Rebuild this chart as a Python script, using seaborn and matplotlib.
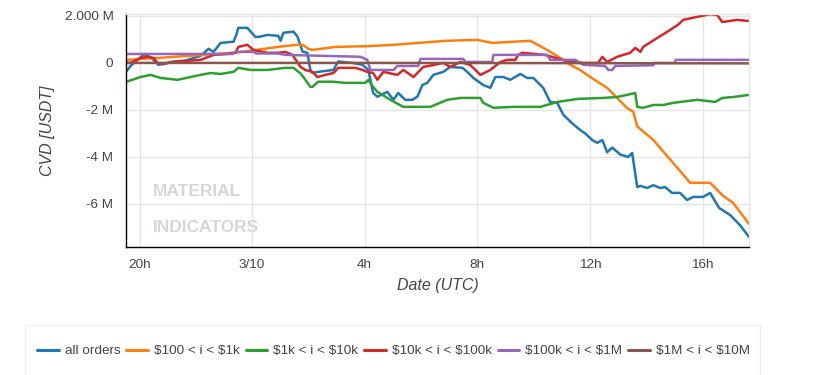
import pandas as pd
import numpy as np
import matplotlib
matplotlib.use("Agg")
import matplotlib.pyplot as plt
import matplotlib.dates as mdates
from matplotlib.ticker import MultipleLocator, FuncFormatter
from matplotlib.lines import Line2D
from matplotlib.patches import Rectangle
import seaborn as sns

# 时间起点：3/9 20h (UTC)，各序列的时间以小时偏移表示
START = pd.Timestamp("2023-03-09 20:00")

series_names = ["all orders", "$100 < i < $1k", "$1k < i < $10k",
                "$10k < i < $100k", "$100k < i < $1M", "$1M < i < $10M"]

# CVD 数值单位：百万 USDT
all_h = [-0.46, -0.32, 0.14, 0.39, 0.67, 0.85, 1.10, 1.63, 2.17, 2.45, 2.63, 2.88, 3.34, 3.44, 3.51,
         3.83, 4.12, 4.30, 4.54, 4.93, 5.01, 5.11, 5.47, 5.61, 5.79, 5.96, 6.07, 6.14, 6.35, 6.89,
         7.06, 7.56, 7.92, 8.13, 8.20, 8.30, 8.45, 8.80, 9.02, 9.19, 9.44, 9.69, 9.87, 10.05, 10.22,
         10.44, 10.79, 11.04, 11.47, 11.64, 11.86, 12.21, 12.46, 12.64, 12.92, 13.17, 13.53, 13.77,
         13.99, 14.34, 14.59, 14.84, 15.05, 15.37, 15.65, 15.83, 16.08, 16.26, 16.44, 16.61, 16.79,
         17.08, 17.36, 17.50, 17.68, 17.79, 18.03, 18.25, 18.49, 18.67, 18.92, 19.20, 19.45, 19.67,
         20.02, 20.27, 20.59, 20.98, 21.33, 21.65]
all_v = [-0.35, -0.13, 0.34, 0.25, -0.08, -0.05, 0.04, 0.10, 0.30, 0.60, 0.47, 0.85, 0.90, 1.20, 1.49,
         1.49, 1.10, 1.12, 1.19, 1.15, 0.94, 1.28, 1.33, 1.12, 0.48, 0.43, -0.30, -0.42, -0.38, -0.30,
         0.06, 0.00, -0.08, -0.30, -0.72, -1.28, -1.44, -1.23, -1.57, -1.28, -1.57, -1.57, -1.44, -0.94,
         -0.85, -0.51, -0.38, -0.17, -0.21, -0.38, -0.64, -0.94, -1.06, -0.60, -0.60, -0.72, -0.47,
         -0.64, -0.64, -1.06, -1.66, -1.70, -2.20, -2.57, -2.85, -3.00, -3.28, -3.40, -3.28, -3.80,
         -3.60, -3.90, -4.00, -3.83, -5.28, -5.23, -5.32, -5.20, -5.32, -5.28, -5.53, -5.53, -5.83,
         -5.70, -5.70, -5.53, -6.17, -6.47, -6.90, -7.40]

k1_h = [-0.46, 0.5, 2.0, 3.5, 4.12, 5.18, 5.61, 5.79, 6.00, 6.14, 6.96, 8.27, 9.02, 10.9, 11.5, 12.0,
        12.53, 13.88, 14.48, 14.95, 15.30, 15.65, 16.01, 16.61, 17.32, 17.54, 17.68, 18.25, 18.96,
        19.56, 20.27, 20.70, 21.09, 21.65]
k1_v = [0.13, 0.20, 0.32, 0.45, 0.55, 0.72, 0.77, 0.77, 0.60, 0.55, 0.68, 0.72, 0.77, 0.94, 0.96, 0.98,
        0.85, 0.94, 0.55, 0.21, -0.08, -0.30, -0.60, -1.06, -1.92, -2.08, -2.70, -3.28, -4.26,
        -5.10, -5.10, -5.62, -5.96, -6.85]

k10_h = [-0.46, 0.04, 0.39, 0.75, 1.35, 2.17, 2.52, 2.88, 3.34, 3.51, 3.94, 4.54, 5.18, 5.47, 5.72,
         5.82, 6.07, 6.14, 6.35, 6.89, 7.31, 8.02, 8.13, 8.30, 8.45, 8.91, 9.37, 9.73, 10.33, 10.93,
         11.40, 12.11, 12.21, 12.57, 13.28, 14.24, 14.84, 15.58, 16.47, 16.97, 17.32, 17.61, 17.68,
         17.89, 18.25, 18.60, 18.96, 19.81, 20.16, 20.45, 20.70, 21.09, 21.65]
k10_v = [-0.80, -0.60, -0.51, -0.64, -0.72, -0.51, -0.43, -0.47, -0.38, -0.21, -0.30, -0.30, -0.21,
         -0.21, -0.45, -0.60, -1.02, -1.02, -0.80, -0.80, -0.85, -0.85, -0.72, -1.02, -1.23, -1.57,
         -1.87, -1.87, -1.87, -1.57, -1.49, -1.49, -1.70, -1.91, -1.87, -1.87, -1.66, -1.53, -1.49,
         -1.45, -1.36, -1.28, -1.87, -1.91, -1.79, -1.79, -1.70, -1.57, -1.62, -1.66, -1.49, -1.45,
         -1.36]

k100_h = [-0.46, -0.32, 0.04, 0.28, 0.50, 0.64, 0.85, 1.21, 2.17, 2.63, 3.12, 3.41, 3.51, 3.83, 4.05,
          4.54, 4.93, 5.18, 5.43, 5.72, 5.89, 6.14, 6.32, 6.60, 6.89, 7.06, 7.67, 7.92, 8.09, 8.30,
          8.45, 8.66, 9.16, 9.37, 9.73, 10.08, 10.44, 10.79, 11.04, 11.40, 11.75, 12.11, 12.46, 12.82,
          13.06, 13.35, 13.45, 13.60, 14.41, 15.02, 15.73, 16.29, 16.44, 16.61, 16.97, 17.43, 17.61,
          17.79, 17.89, 18.39, 18.74, 19.13, 19.31, 19.81, 20.27, 20.52, 20.70, 21.23, 21.65]
k100_v = [0.00, 0.00, 0.21, 0.26, 0.21, 0.00, -0.04, 0.04, 0.13, 0.34, 0.38, 0.43, 0.68, 0.77, 0.55,
          0.43, 0.43, 0.47, 0.34, -0.17, -0.30, -0.38, -0.60, -0.51, -0.43, -0.21, -0.21, -0.30,
          -0.38, -0.43, -0.72, -0.38, -0.51, -0.30, -0.60, -0.17, -0.09, 0.00, -0.17, 0.04, -0.09,
          -0.51, -0.30, 0.04, 0.13, 0.13, 0.34, 0.43, 0.34, 0.13, 0.00, 0.00, 0.26, 0.04, 0.26, 0.43,
          0.64, 0.47, 0.68, 1.06, 1.32, 1.62, 1.83, 1.96, 2.07, 2.04, 1.74, 1.83, 1.78]

m1_h = [-0.46, 3.30, 3.40, 4.05, 4.15, 4.90, 5.20, 7.85, 8.09, 8.20, 9.02, 9.16, 9.90, 9.98, 11.50,
        11.57, 12.53, 12.57, 14.48, 14.59, 15.48, 15.76, 16.54, 16.65, 16.79, 16.90, 18.25, 18.30,
        19.00, 19.05, 21.65]
m1_v = [0.38, 0.38, 0.47, 0.47, 0.40, 0.40, 0.34, 0.26, 0.13, -0.30, -0.30, -0.13, -0.13, 0.17, 0.17,
        0.04, 0.04, 0.34, 0.34, 0.13, 0.13, -0.08, -0.13, -0.30, -0.30, -0.13, -0.10, 0.00, 0.00,
        0.13, 0.13]

m10_h = [-0.46, 8.0, 16.0, 21.65]
m10_v = [0.00, 0.00, -0.01, -0.02]

series_hours = [all_h, k1_h, k10_h, k100_h, m1_h, m10_h]
series_values = [all_v, k1_v, k10_v, k100_v, m1_v, m10_v]

ytick_values = [-6, -4, -2, 0, 2]
ytick_labels = ["-6 M", "-4 M", "-2 M", "0", "2.000 M"]

# 组装长表
frames = []
for name, hrs, vals in zip(series_names, series_hours, series_values):
    frames.append(pd.DataFrame({
        "time": START + pd.to_timedelta(hrs, unit="h"),
        "cvd": vals,
        "series": name,
    }))
df = pd.concat(frames, ignore_index=True)

sns.set_style("white")
plt.rcParams["font.family"] = ["Liberation Sans", "DejaVu Sans"]

palette = sns.color_palette("tab10")[:6]
text_color = "#444444"
grid_color = "#e5e5e5"

fig = plt.figure(figsize=(8.37, 3.75), dpi=100)
ax = fig.add_axes([126 / 837, 1 - 247 / 375, (749 - 126) / 837, (247 - 14) / 375])

sns.lineplot(data=df, x="time", y="cvd", hue="series", hue_order=series_names,
             palette=palette, estimator=None, sort=False, linewidth=1.8,
             legend=False, ax=ax)

ax.set_xlim(START + pd.Timedelta(hours=-0.48), START + pd.Timedelta(hours=21.65))
ax.set_ylim(-7.83, 2.08)

# x 轴刻度：每 4 小时，午夜显示日期
ax.xaxis.set_major_locator(mdates.HourLocator(byhour=[0, 4, 8, 12, 16, 20]))
def fmt_time(x, pos):
    d = mdates.num2date(x)
    if d.hour == 0:
        return f"{d.month}/{d.day}"
    return f"{d.hour}h"
ax.xaxis.set_major_formatter(FuncFormatter(fmt_time))

ax.set_yticks(ytick_values)
ax.set_yticklabels(ytick_labels)
ax.yaxis.set_minor_locator(MultipleLocator(0.4))

ax.grid(True, which="major", color=grid_color, linewidth=1)
ax.set_axisbelow(True)
for side in ["left", "bottom"]:
    ax.spines[side].set_color("black")
    ax.spines[side].set_linewidth(1)
for side in ["top", "right"]:
    ax.spines[side].set_color(grid_color)
    ax.spines[side].set_linewidth(1)

ax.tick_params(axis="both", which="major", direction="out", length=5, width=1,
               color="black", labelsize=9.7, labelcolor=text_color, pad=4)
ax.tick_params(axis="y", which="minor", direction="out", length=3, width=1, color="black")

ax.set_xlabel("Date (UTC)", fontsize=11.5, style="italic", color=text_color, labelpad=5)
ax.set_ylabel("CVD [USDT]", fontsize=11.5, style="italic", color=text_color, labelpad=7)

# 水印
ax.text(0.043, 0.238, "MATERIAL", transform=ax.transAxes, fontsize=12.5, fontweight="bold",
        color="#d3d7db", ha="left", va="center", zorder=0)
ax.text(0.043, 0.084, "INDICATORS", transform=ax.transAxes, fontsize=12.5, fontweight="bold",
        color="#d3d7db", ha="left", va="center", zorder=0)

# 图例（底部横排）
handles = [Line2D([], [], color=c, linewidth=2.2) for c in palette]
labels = [n.replace("$", r"\$") for n in series_names]
leg_h = 0.06
fig.legend(handles, labels, loc="center",
           bbox_to_anchor=(37 / 837, 1 - 351 / 375 - leg_h / 2, (750 - 37) / 837, leg_h),
           mode="expand", ncol=6, frameon=False, handlelength=1.6, handletextpad=0.45,
           borderpad=0, borderaxespad=0, fontsize=9.7, labelcolor=text_color)
fig.patches.append(Rectangle((25 / 837, -0.05), (760 - 25) / 837, 1 - 325 / 375 + 0.05,
                             transform=fig.transFigure, fill=False,
                             edgecolor="#eeeeee", linewidth=1))

fig.savefig("out.png", dpi=100)
plt.close(fig)
